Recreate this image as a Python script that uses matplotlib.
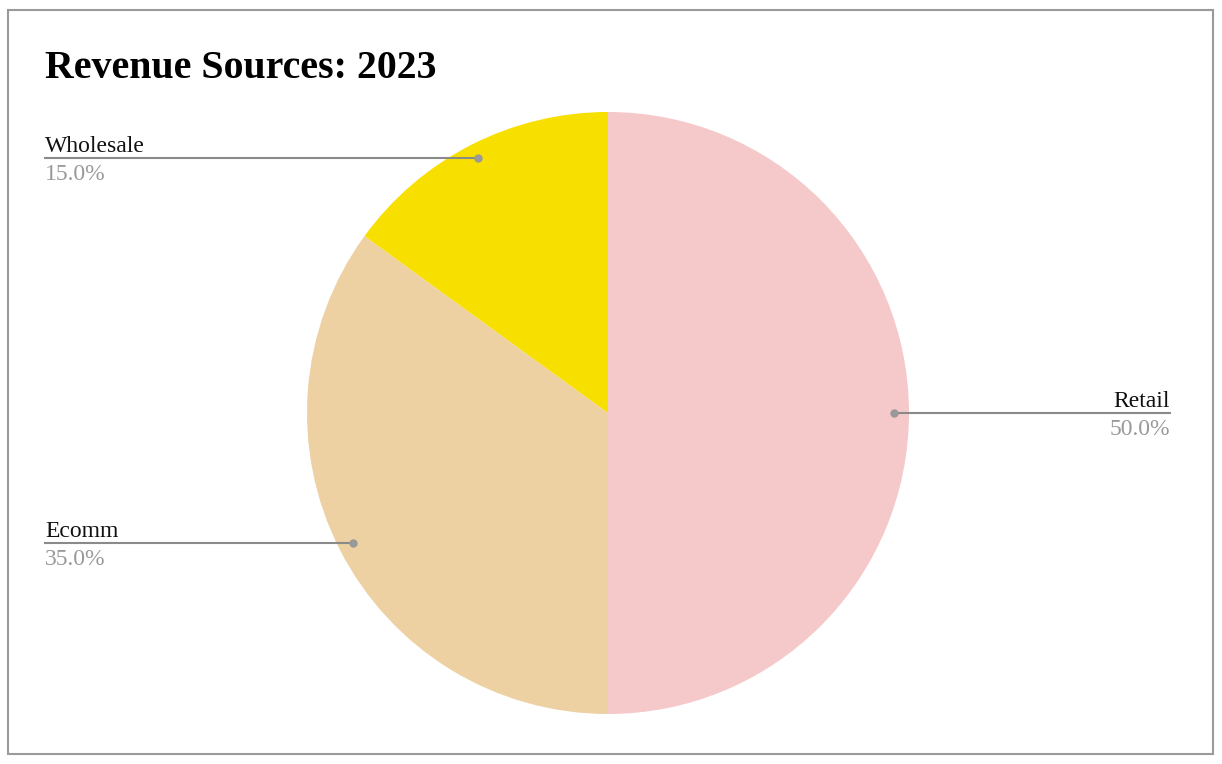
import numpy as np
import matplotlib.pyplot as plt
from matplotlib.patches import Rectangle

# données du graphique
categories = ["Retail", "Ecomm", "Wholesale"]
valeurs = [50.0, 35.0, 15.0]
couleurs = ["#F5C9CA", "#EDD1A2", "#F7DF00"]
titre = "Revenue Sources: 2023"

plt.rcParams["font.family"] = ["Liberation Serif", "DejaVu Serif"]

W, H = 1222, 764
fig = plt.figure(figsize=(W / 100, H / 100), dpi=100)
ax = fig.add_axes([0, 0, 1, 1])

# cadre gris autour du graphique
ax.add_patch(Rectangle((7.5, H - 753.5), 1205, 744, fill=False, edgecolor="#9a9a9a", lw=1.5))

# camembert : départ à midi, sens horaire
cx, cy, r = 608, H - 413, 301
wedges, _ = ax.pie(valeurs, colors=couleurs, startangle=90, counterclock=False,
                   center=(cx, cy), radius=r, frame=True,
                   wedgeprops=dict(linewidth=0))
ax.set_xlim(0, W)
ax.set_ylim(0, H)
ax.axis("off")

# étiquettes avec lignes de rappel
for w, nom, val in zip(wedges, categories, valeurs):
    ang = np.deg2rad((w.theta1 + w.theta2) / 2)
    px = cx + 0.95 * r * np.cos(ang)
    py = cy + 0.95 * r * np.sin(ang)
    if px > cx:
        x_txt, ha = 1170, "right"
        ax.plot([px, x_txt], [py, py], color="#8a8a8a", lw=1.5)
    else:
        x_txt, ha = 45, "left"
        ax.plot([x_txt, px], [py, py], color="#8a8a8a", lw=1.5)
    ax.plot(px, py, "o", color="#999999", ms=5)
    ax.text(x_txt, py + 6, nom, ha=ha, va="baseline", fontsize=17, color="#111111")
    ax.text(x_txt, py - 22, f"{val:.1f}%", ha=ha, va="baseline", fontsize=17, color="#999999")

ax.text(45, H - 78, titre, ha="left", va="baseline", fontsize=28.7, fontweight="bold", color="#000000")

fig.savefig("out.png", dpi=100)
